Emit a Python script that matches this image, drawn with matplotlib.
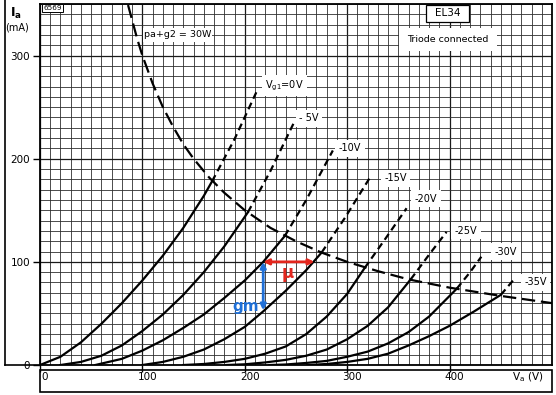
import numpy as np
import matplotlib.pyplot as plt
from matplotlib.patches import Rectangle
from matplotlib.lines import Line2D

plt.rcParams['font.family'] = ['DejaVu Sans']
plt.rcParams['mathtext.default'] = 'regular'

# EL34, triode connected: anode volts (V) vs anode current (mA), one list per grid voltage
grid_labels = ["V$_{g1}$=0V", "- 5V", "-10V", "-15V", "-20V", "-25V", "-30V", "-35V"]

# solid part of each curve, up to the 30 W line
va_solid = [
    [0, 20, 40, 60, 80, 100, 120, 140, 160, 168],
    [20, 40, 60, 80, 100, 120, 140, 160, 180, 203],
    [54, 80, 100, 120, 140, 160, 180, 200, 218, 239],
    [100, 120, 140, 160, 180, 200, 218, 240, 260, 275],
    [140, 160, 180, 200, 220, 240, 260, 280, 300, 317],
    [182, 200, 220, 240, 260, 280, 300, 320, 340, 362],
    [224, 240, 260, 280, 300, 320, 340, 360, 380, 392, 407],
    [262, 280, 300, 320, 340, 360, 380, 400, 424, 450],
]
ia_solid = [
    [0, 8, 22, 40, 60, 82, 106, 133, 164, 178],
    [0, 3, 9, 19, 33, 49, 68, 90, 115, 148],
    [0, 6, 14, 24, 36, 49, 65, 82, 100, 125],
    [0, 3, 8, 15, 25, 37, 52, 72, 92, 109],
    [0, 1, 3, 6, 11, 18, 30, 47, 69, 94],
    [0, 0.7, 2.5, 5, 9, 15, 25, 38, 56, 83],
    [0, 0.5, 2, 4, 8, 13, 21, 32, 47, 59, 74],
    [0, 1, 3, 6, 11, 19, 28, 38, 52, 68],
]
# dashed part, above the 30 W line
va_dash = [
    [168, 190, 212],
    [203, 225, 248],
    [239, 260, 286],
    [275, 298, 323],
    [317, 337, 358],
    [362, 380, 397],
    [407, 420, 431],
    [450, 462],
]
ia_dash = [
    [178, 219, 266],
    [148, 188, 235],
    [125, 160, 208],
    [109, 143, 183],
    [94, 122, 152],
    [83, 107, 129],
    [74, 90, 105],
    [68, 82],
]
label_va = [220, 253, 292, 336, 366, 405, 444, 473]
label_ia = [271, 239, 210, 181, 161, 130, 110, 80]

# Pa+g2 = 30 W limit
pdiss_va = [86, 95, 100, 110, 120, 130, 140, 150, 165, 180, 200, 225, 250, 275,
            300, 330, 360, 400, 450, 500]
pdiss_ia = [349, 316, 300, 273, 250, 231, 214, 200, 182, 167, 150, 133, 120, 109,
            100, 91, 83, 75, 67, 60]

x_ticks = [0, 100, 200, 300, 400]
y_ticks = [0, 100, 200, 300]

# gm / mu construction
gm_va = 218
gm_ia = [100, 53]
mu_va = [218, 268]
mu_ia = 100

fig = plt.figure(figsize=(5.56, 3.95), dpi=100)
ax = fig.add_axes([0.0719, 0.0759, 0.9209, 0.9140])
ax.set_xlim(0, 500)
ax.set_ylim(0, 350)

# graph paper
ax.set_xticks(np.arange(0, 501, 10), minor=True)
ax.set_yticks(np.arange(0, 351, 10), minor=True)
ax.set_xticks(x_ticks)
ax.set_yticks(y_ticks)
ax.set_xticklabels([])
ax.set_yticklabels([str(v) for v in y_ticks], fontsize=7.5)
ax.grid(which='minor', color='#2e2e2e', lw=0.6)
ax.grid(which='major', color='#1a1a1a', lw=0.9)
ax.tick_params(which='minor', length=0)
ax.tick_params(which='major', length=5, width=1, direction='out', pad=2)
for s in ax.spines.values():
    s.set_linewidth(1.3)

for i in range(len(grid_labels)):
    ax.plot(va_solid[i], ia_solid[i], color='black', lw=1.6, zorder=3)
    ax.plot(va_dash[i], ia_dash[i], color='black', lw=1.6, zorder=3,
            dashes=(3.2, 2.0))
    ax.text(label_va[i], label_ia[i], grid_labels[i], fontsize=7, va='center',
            zorder=4, bbox=dict(facecolor='white', edgecolor='none', pad=2.5))

ax.plot(pdiss_va, pdiss_ia, color='black', lw=1.6, dashes=(6, 2.6), zorder=3)

# boxed captions
ax.add_patch(Rectangle((101, 313), 67, 14, facecolor='white', edgecolor='none', zorder=4))
ax.text(134.5, 320, "pa+g2 = 30W", fontsize=6.8, ha='center', va='center', zorder=5)
ax.add_patch(Rectangle((377, 333), 42, 16.5, facecolor='white', edgecolor='black',
                       lw=0.9, zorder=4))
ax.text(398, 341, "EL34", fontsize=7.5, ha='center', va='center', zorder=5)
ax.add_patch(Rectangle((351, 304), 95, 23, facecolor='white', edgecolor='none', zorder=4))
ax.text(398, 315.5, "Triode connected", fontsize=6.8, ha='center', va='center', zorder=5)
ax.text(3, 346, "6569", fontsize=5.2, va='center', zorder=5,
        bbox=dict(facecolor='white', edgecolor='black', lw=0.7, pad=1))

# gm and mu arrows
ax.annotate("", xy=(mu_va[1], mu_ia), xytext=(mu_va[0], mu_ia), zorder=6,
            arrowprops=dict(arrowstyle='<|-|>', color='#e3261d', lw=2,
                            mutation_scale=8, shrinkA=0, shrinkB=0))
ax.text(242, 89, "μ", color='#e3261d', fontsize=12, fontweight='bold',
        ha='center', va='center', zorder=6)
ax.annotate("", xy=(gm_va, gm_ia[1]), xytext=(gm_va, gm_ia[0]), zorder=6,
            arrowprops=dict(arrowstyle='<|-|>', color='#1f6fd6', lw=2,
                            mutation_scale=8, shrinkA=0, shrinkB=0))
ax.text(201, 57, "gm", color='#1f6fd6', fontsize=11, fontweight='bold',
        ha='center', va='center', zorder=6)

# x labels inside the bottom strip
for v in x_ticks:
    ax.annotate(str(v), xy=(v, 0), xytext=(3.5, -8.5), textcoords='offset points',
                fontsize=7.5, ha='center', va='center', annotation_clip=False)
ax.annotate("V$_a$ (V)", xy=(476, 0), xytext=(0, -8.5), textcoords='offset points',
            fontsize=7.5, ha='center', va='center', annotation_clip=False)

fig.text(16 / 556, 1 - 13 / 395, "I$_a$", fontsize=9, fontweight='bold',
         ha='center', va='center')
fig.text(17 / 556, 1 - 27 / 395, "(mA)", fontsize=7, ha='center', va='center')

# frame lines around the label strips
fig.add_artist(Rectangle((40 / 556, 1 - 392 / 395), 512 / 556, 22 / 395,
                         transform=fig.transFigure, fill=False, lw=1.2))
fig.add_artist(Line2D([5 / 556, 5 / 556], [1 - 365 / 395, 1.0],
                      transform=fig.transFigure, color='black', lw=1.2))
fig.add_artist(Line2D([5 / 556, 40 / 556], [1 - 365 / 395, 1 - 365 / 395],
                      transform=fig.transFigure, color='black', lw=1.2))

fig.savefig("out.png", dpi=100)
